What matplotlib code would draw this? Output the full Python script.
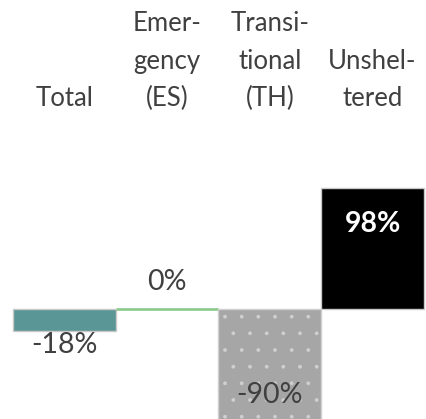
import matplotlib
matplotlib.use("Agg")
import matplotlib.pyplot as plt

categories = ["Total", "Emer-\ngency\n(ES)", "Transi-\ntional\n(TH)", "Unshel-\ntered"]
values = [-18, 0, -90, 98]
value_labels = ["-18%", "0%", "-90%", "98%"]

plt.rcParams['font.family'] = ['Lato', 'DejaVu Sans']
plt.rcParams['hatch.color'] = 'white'
plt.rcParams['hatch.linewidth'] = 0.3

fig = plt.figure(figsize=(4.26, 4.19), dpi=100)
ax = fig.add_axes([0, 0, 1, 1])
ax.set_xlim(-0.627, 3.52)
ax.set_ylim(-89.4, 251)
ax.axis('off')

colors = ['#5b9696', '#8fcb8f', '#a6a6a6', '#000000']
edges = ['#c8c8c8', '#8fcb8f', '#d0d0d0', '#c8c8c8']
x = list(range(len(values)))
bars = ax.bar(x, values, width=1.0, color=colors, edgecolor=edges, linewidth=1.0)
bars[2].set_hatch('.')
bars[1].set_linewidth(2.0)

txt = '#404040'
for i, c in enumerate(categories):
    ax.text(i, 160.5, c, ha='center', va='bottom', fontsize=18.5, color=txt, linespacing=1.62)

# value labels
ax.text(0, -29.5, value_labels[0], ha='center', va='center', fontsize=20.5, color=txt)
ax.text(1, 21.5, value_labels[1], ha='center', va='center', fontsize=20.5, color=txt)
ax.text(2, -69.5, value_labels[2], ha='center', va='center', fontsize=20.5, color=txt)
ax.text(3, 69, value_labels[3], ha='center', va='center', fontsize=20.5, color='white', fontweight='bold')

fig.savefig('out.png', dpi=100)
